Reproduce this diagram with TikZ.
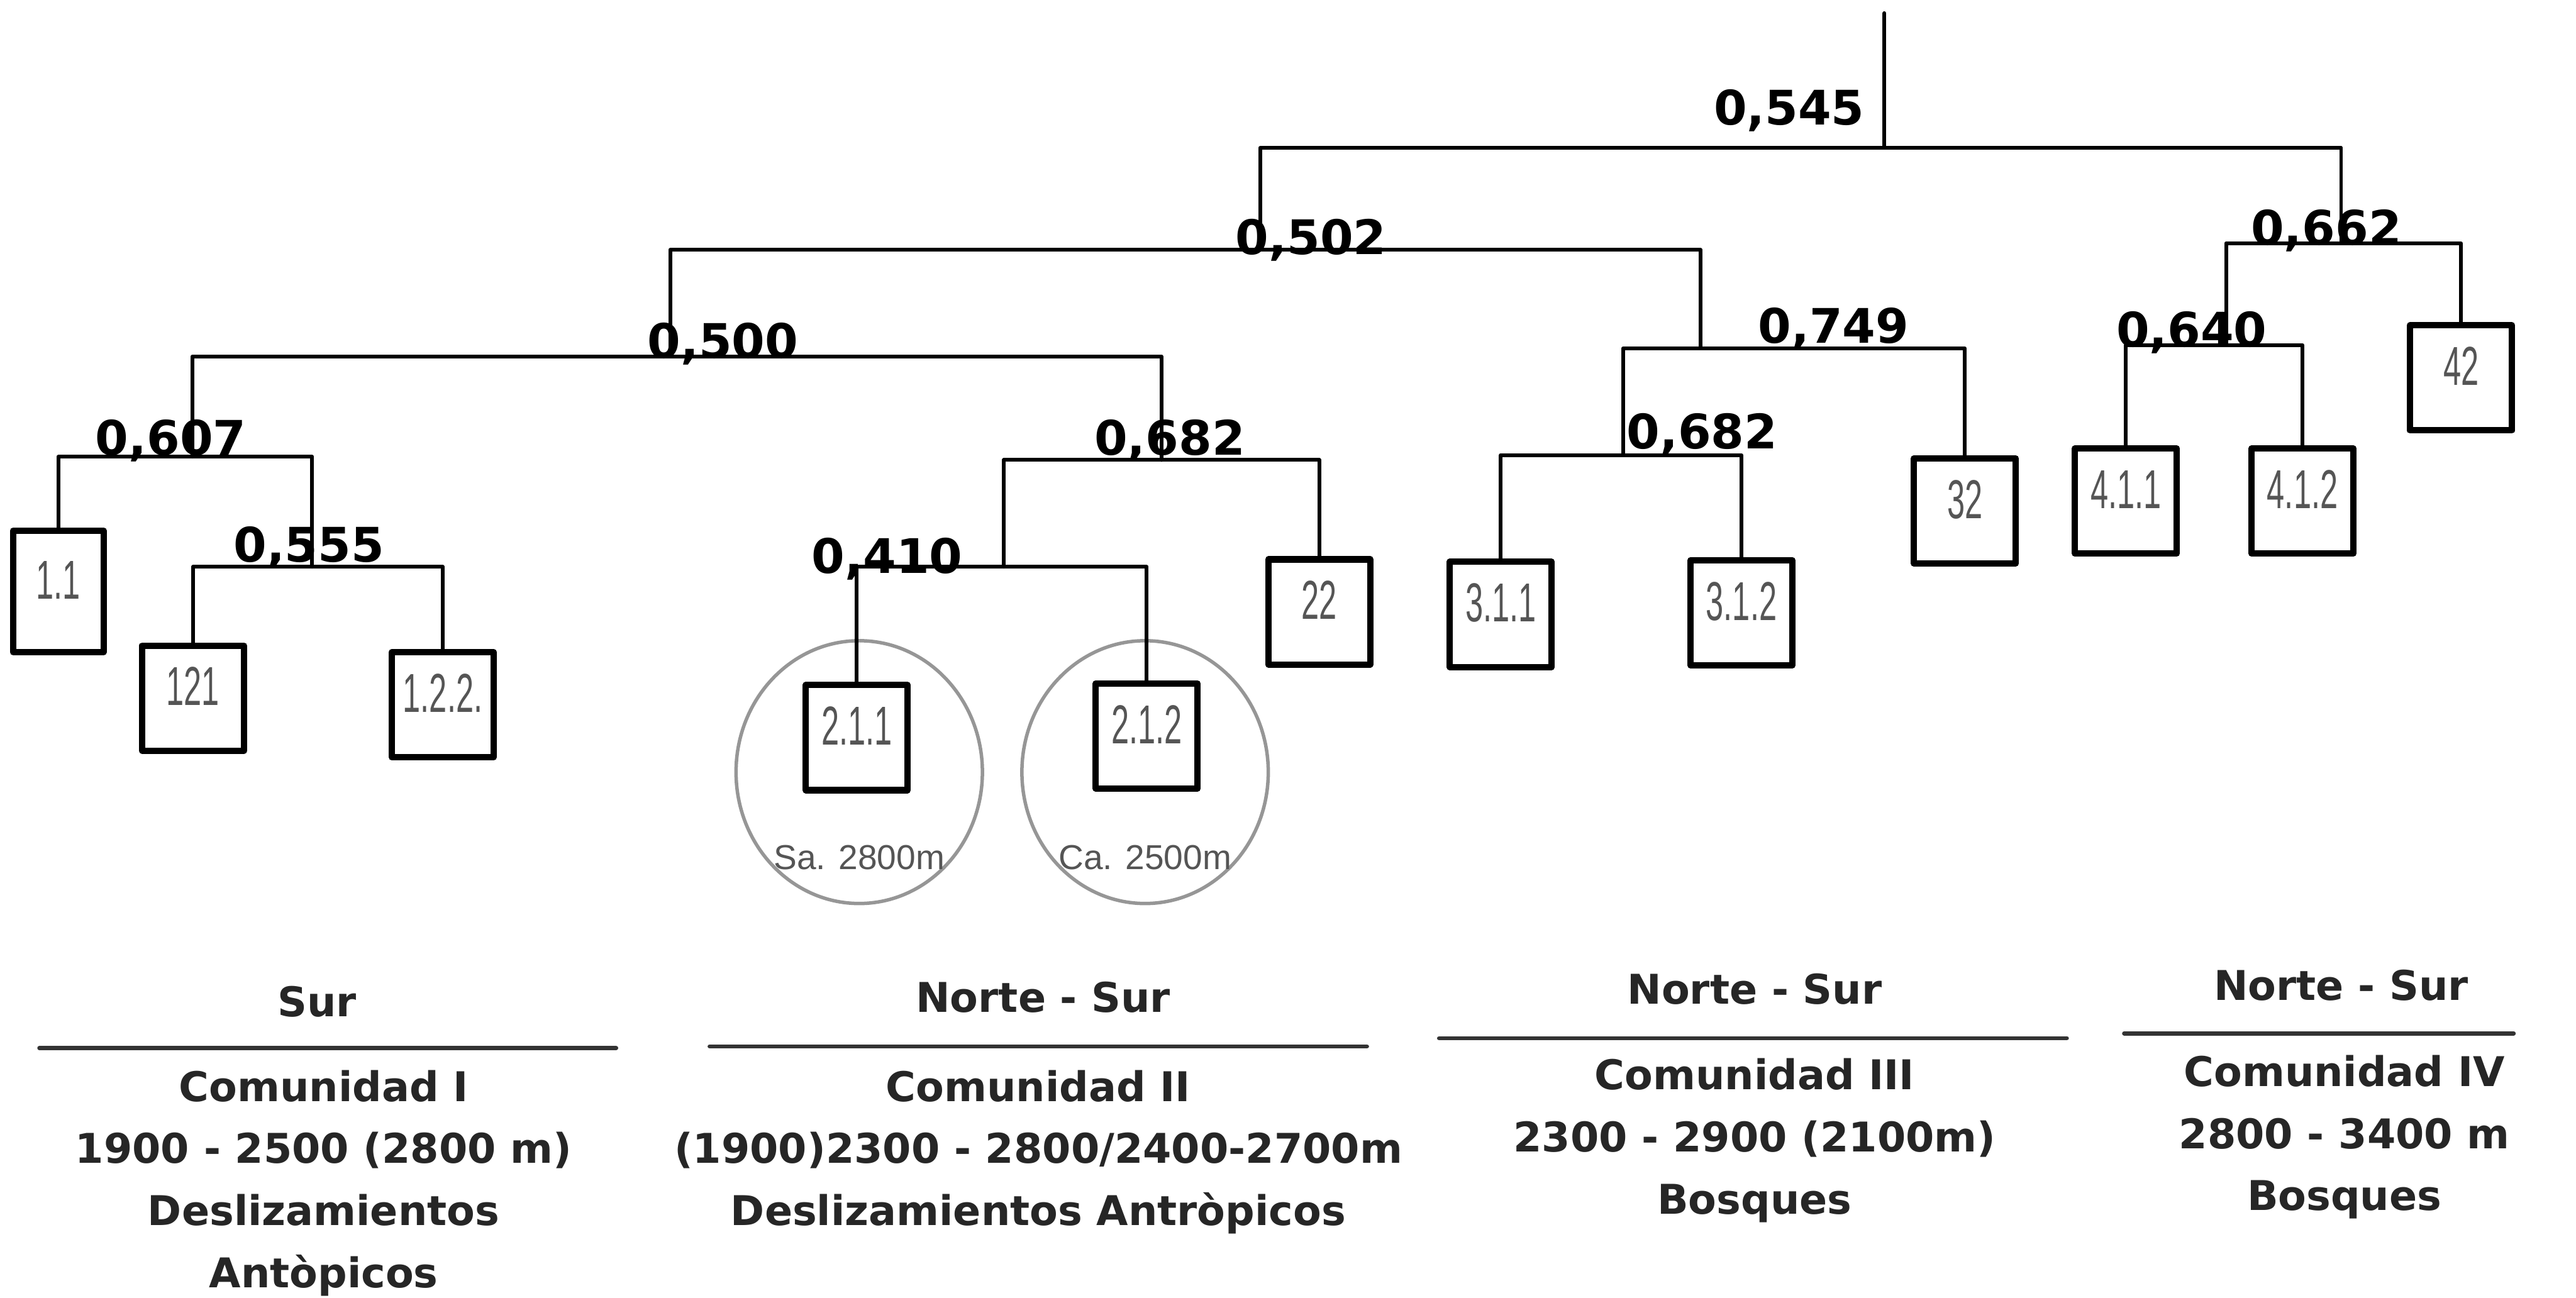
\documentclass[tikz,border=0pt]{standalone}
\usepackage{fontspec}
\setmainfont{Liberation Sans}
\newfontfamily\gruesa{DejaVu Sans}
\usetikzlibrary{shapes.geometric}

\definecolor{grisoscuro}{RGB}{85,85,85}
\definecolor{griscirc}{RGB}{150,150,150}
\newcommand{\estrecho}[1]{\scalebox{0.58}[1]{#1}}

\begin{document}
\begin{tikzpicture}[line cap=round, line join=round, x=0.02cm, y=-0.02cm,
	rama/.style={line width=1.3pt},
	caja/.style={draw, line width=2.2pt, fill=white, minimum width=1.24cm, minimum height=1.28cm, inner sep=0pt,
		text height=0.48cm, text depth=0.30cm, text=grisoscuro, font=\fontsize{19}{21}\selectfont},
	valor/.style={inner sep=0pt, anchor=base, font=\gruesa\bfseries\fontsize{16.5}{20}\selectfont},
	circulo/.style={draw=griscirc, line width=1.2pt, ellipse, minimum width=3cm, minimum height=3.2cm, inner sep=0pt},
	altura/.style={inner sep=0pt, text=grisoscuro, font=\fontsize{12}{14}\selectfont},
	titulo/.style={inner sep=0pt, text=black!85, font=\gruesa\bfseries\fontsize{14.2}{21.5}\selectfont},
	comunidad/.style={titulo, align=center, anchor=north},
	raya/.style={line width=1.5pt, black!80}]
		
		% Ventana de dibujo
		\useasboundingbox (0,0) rectangle (1568,790);
		
		% Puntos de union del dendrograma
		\coordinate (raiz)  at (1147,8);
		\coordinate (m545)  at (1147,90);
		\coordinate (m502)  at (767,152);
		\coordinate (m662)  at (1425,148);
		\coordinate (m500)  at (408,217);
		\coordinate (m749)  at (1035,212);
		\coordinate (m640)  at (1355,210);
		\coordinate (m607)  at (117,278);
		\coordinate (m682a) at (707,280);
		\coordinate (m682b) at (988,277);
		\coordinate (m555)  at (190,345);
		\coordinate (m410)  at (611,345);
		
		% Elipses grises de la comunidad II
		\node [circulo] (c211) at (523,470) {};
		\node [circulo] (c212) at (697,470) {};
		\node [altura] (t211) at (523,522) {Sa. 2800m};
		\node [altura] (t212) at (697,522) {Ca. 2500m};
		
		% Parcelas (hojas)
		\node [caja, minimum width=1.1cm, minimum height=1.48cm] (b11) at (35.5,360) {\estrecho{1.1}};
		\node [caja] (b121) at (117.5,425) {\estrecho{121}};
		\node [caja] (b122) at (269.5,429) {\estrecho{1.2.2.}};
		\node [caja] (b211) at (521.5,449) {\estrecho{2.1.1}};
		\node [caja] (b212) at (698,448)   {\estrecho{2.1.2}};
		\node [caja] (b22)  at (803,372.5) {\estrecho{22}};
		\node [caja] (b311) at (913.5,374) {\estrecho{3.1.1}};
		\node [caja] (b312) at (1060,373)  {\estrecho{3.1.2}};
		\node [caja] (b32)  at (1196,311)  {\estrecho{32}};
		\node [caja] (b411) at (1294,305)  {\estrecho{4.1.1}};
		\node [caja] (b412) at (1401.5,305) {\estrecho{4.1.2}};
		\node [caja] (b42)  at (1498,230)  {\estrecho{42}};
		
		% Ramas del dendrograma
		\draw [rama] (raiz) -- (m545);
		\foreach \p/\h in {m545/m502, m545/m662, m502/m500, m502/m749, m662/m640, m662/b42.north,
			m500/m607, m500/m682a, m749/m682b, m749/b32.north, m640/b411.north, m640/b412.north,
			m607/b11.north, m607/m555, m555/b121.north, m555/b122.north,
			m682a/m410, m682a/b22.north, m410/b211.north, m410/b212.north,
			m682b/b311.north, m682b/b312.north}
		\draw [rama] (\p) -| (\h);
		
		% Indices de similitud
		\node [valor] (v545)  at (1089,76)  {0,545};
		\node [valor] (v502)  at (798,155)  {0,502};
		\node [valor] (v662)  at (1416,149) {0,662};
		\node [valor] (v500)  at (440,218)  {0,500};
		\node [valor] (v749)  at (1116,209) {0,749};
		\node [valor] (v640)  at (1334,211) {0,640};
		\node [valor] (v607)  at (104,277)  {0,607};
		\node [valor] (v682a) at (712,277)  {0,682};
		\node [valor] (v682b) at (1036,273) {0,682};
		\node [valor] (v555)  at (188,342)  {0,555};
		\node [valor] (v410)  at (540,349)  {0,410};
		
		% Comunidades
		\node [titulo, anchor=base] (o1) at (193,619) {Sur};
		\node [titulo, anchor=base] (o2) at (635,616) {Norte - Sur};
		\node [titulo, anchor=base] (o3) at (1068,611) {Norte - Sur};
		\node [titulo, anchor=base] (o4) at (1425,609) {Norte - Sur};
		
		\coordinate (l1a) at (24,638);   \coordinate (l1b) at (375,638);
		\coordinate (l2a) at (432,637);  \coordinate (l2b) at (832,637);
		\coordinate (l3a) at (876,632);  \coordinate (l3b) at (1258,632);
		\coordinate (l4a) at (1293,629); \coordinate (l4b) at (1530,629);
		\foreach \i in {1,...,4}
		\draw [raya] (l\i a) -- (l\i b);
		
		\node [comunidad] (k1) at (197,651) {Comunidad I\\1900 - 2500 (2800 m)\\Deslizamientos\\Antòpicos};
		\node [comunidad] (k2) at (632,651) {Comunidad II\\(1900)2300 - 2800/2400-2700m\\Deslizamientos Antròpicos};
		\node [comunidad] (k3) at (1068,644) {Comunidad III\\2300 - 2900 (2100m)\\Bosques};
		\node [comunidad] (k4) at (1427,642) {Comunidad IV\\2800 - 3400 m\\Bosques};
		
	\end{tikzpicture}
\end{document}
